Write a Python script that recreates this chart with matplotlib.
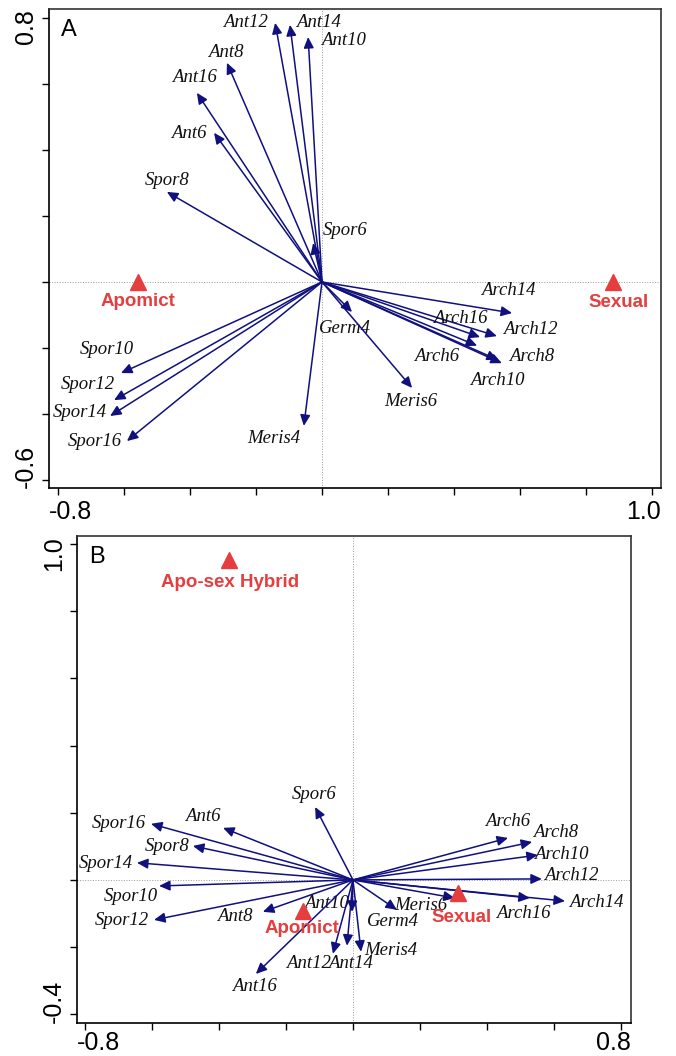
import matplotlib
matplotlib.use('Agg')
import matplotlib.pyplot as plt
import matplotlib.transforms as mtransforms
import numpy as np

# trait scores (arrow tips), panel A
varsA = ['Ant6', 'Ant8', 'Ant10', 'Ant12', 'Ant14', 'Ant16',
         'Spor6', 'Spor8', 'Spor10', 'Spor12', 'Spor14', 'Spor16',
         'Arch6', 'Arch8', 'Arch10', 'Arch12', 'Arch14', 'Arch16',
         'Germ4', 'Meris4', 'Meris6']
xA = [-0.327, -0.288, -0.042, -0.142, -0.097, -0.379,
      -0.027, -0.470, -0.609, -0.630, -0.642, -0.591,
      0.470, 0.533, 0.545, 0.530, 0.576, 0.479,
      0.091, -0.055, 0.273]
yA = [0.452, 0.664, 0.742, 0.785, 0.779, 0.573,
      0.118, 0.273, -0.276, -0.358, -0.406, -0.482,
      -0.193, -0.236, -0.246, -0.164, -0.094, -0.167,
      -0.091, -0.436, -0.321]

# trait scores, panel B
varsB = varsA
xB = [-0.388, -0.269, -0.003, -0.060, -0.018, -0.290,
      -0.113, -0.478, -0.579, -0.594, -0.645, -0.603,
      0.463, 0.535, 0.552, 0.564, 0.633, 0.528,
      0.131, 0.024, 0.304]
yB = [0.155, -0.095, -0.095, -0.220, -0.196, -0.280,
      0.217, 0.101, -0.018, -0.119, 0.051, 0.167,
      0.125, 0.113, 0.074, 0.003, -0.063, -0.054,
      -0.089, -0.214, -0.054]

# reproductive mode centroids
sitesA = ['Apomict', 'Sexual']
sxA = [-0.558, 0.882]
syA = [0.0, 0.0]
sitesB = ['Apo-sex Hybrid', 'Apomict', 'Sexual']
sxB = [-0.370, -0.149, 0.313]
syB = [0.952, -0.092, -0.039]

# label offsets from arrow tips, pixels (dx, dy up)
offA = {'Ant12': (-30, 0), 'Ant14': (28, 2), 'Ant10': (35, -3), 'Ant8': (-1, 10),
        'Ant16': (-2, 15), 'Ant6': (-25, -1), 'Spor8': (0, 11), 'Spor6': (32, 13),
        'Spor10': (-14, 24), 'Spor12': (-26, 16), 'Spor14': (-30, 4), 'Spor16': (-32, 0),
        'Meris4': (-30, -13), 'Germ4': (-7, -16), 'Meris6': (-1, -14), 'Arch14': (-4, 23),
        'Arch16': (-20, 19), 'Arch12': (33, 7), 'Arch6': (-41, -11), 'Arch8': (34, 3),
        'Arch10': (-5, -17)}
offB = {'Spor16': (-32, 0), 'Ant6': (-20, 11), 'Spor8': (-26, -1), 'Spor14': (-31, -1),
        'Spor10': (-28, -11), 'Spor12': (-32, -1), 'Ant8': (-28, -5), 'Ant16': (-1, -13),
        'Spor6': (-1, 13), 'Ant10': (-26, 8), 'Ant12': (-24, -10), 'Ant14': (4, -18),
        'Meris4': (30, 1), 'Germ4': (-4, -12), 'Meris6': (-34, -7), 'Arch6': (0, 16),
        'Arch8': (23, 9), 'Arch10': (23, 1), 'Arch12': (29, 3), 'Arch14': (31, -1),
        'Arch16': (-7, -15)}
soffA = {'Apomict': (0, -20), 'Sexual': (5, -21)}
soffB = {'Apo-sex Hybrid': (1, -22), 'Apomict': (-1, -18), 'Sexual': (4, -24)}

navy = '#10107f'
red = '#e53e3e'
sans = 'Liberation Sans'
serif = 'Liberation Serif'


def biplot(fig, ax, names, xs, ys, offs, sites, sx, sy, soffs, xlim, ylim, xt, yt, letter, xgap):
    ax.set_xlim(xlim)
    ax.set_ylim(ylim)
    ax.axhline(0, color='#999999', lw=0.7, ls=':', zorder=0)
    ax.axvline(0, color='#999999', lw=0.7, ls=':', zorder=0)
    for n, x, y in zip(names, xs, ys):
        ax.annotate('', xy=(x, y), xytext=(0, 0),
                    arrowprops=dict(arrowstyle='-|>,head_length=0.65,head_width=0.3',
                                    color=navy, lw=1.1, mutation_scale=10,
                                    shrinkA=0, shrinkB=0))
        dx, dy = offs[n]
        ax.annotate(n, xy=(x, y), xytext=(dx, dy), textcoords='offset pixels',
                    ha='center', va='center', fontsize=13.5, style='italic',
                    family=serif, color='#111111')
    ax.plot(sx, sy, '^', color=red, ms=12, mec=red, zorder=5)
    for n, x, y in zip(sites, sx, sy):
        dx, dy = soffs[n]
        ax.annotate(n, xy=(x, y), xytext=(dx, dy), textcoords='offset pixels',
                    ha='center', va='center', fontsize=13.5, fontweight='bold',
                    family=sans, color=red)
    ax.set_xticks(xt)
    ax.set_yticks(yt)
    ax.set_xticklabels([])
    ax.set_yticklabels([])
    ax.tick_params(direction='out', length=5, width=1, colors='black')
    for s in ['left', 'bottom']:
        ax.spines[s].set_color('black')
        ax.spines[s].set_linewidth(1.2)
    for s in ['top', 'right']:
        ax.spines[s].set_color('#333333')
        ax.spines[s].set_linewidth(1.2)
    # end tick labels only, kept inside the frame
    below = ax.transAxes + mtransforms.ScaledTranslation(0, -xgap / 100, fig.dpi_scale_trans)
    left = ax.transAxes + mtransforms.ScaledTranslation(-11 / 100, 0, fig.dpi_scale_trans)
    ax.text(0, 0, '%.1f' % xt[0], transform=below, ha='left', va='top',
            fontsize=18, family=sans)
    ax.text(1, 0, '%.1f' % xt[-1], transform=below, ha='right', va='top',
            fontsize=18, family=sans)
    ax.text(0, 1, '%.1f' % yt[-1], transform=left, ha='right', va='top',
            fontsize=18, family=sans, rotation=90)
    ax.text(0, 0, '%.1f' % yt[0], transform=left, ha='right', va='bottom',
            fontsize=18, family=sans, rotation=90)
    corner = ax.transAxes + mtransforms.ScaledTranslation(12 / 100, -10 / 100, fig.dpi_scale_trans)
    ax.text(0, 1, letter, transform=corner, ha='left', va='top', fontsize=17, family=sans)


fig = plt.figure(figsize=(6.76, 10.56), dpi=100)
axA = fig.add_axes([0.0725, 0.5379, 0.9053, 0.4536])
axB = fig.add_axes([0.1139, 0.03125, 0.8195, 0.4612])

biplot(fig, axA, varsA, xA, yA, offA, sitesA, sxA, syA, soffA,
       (-0.827, 1.027), (-0.624, 0.827),
       np.round(np.arange(-0.8, 1.01, 0.2), 1), np.round(np.arange(-0.6, 0.81, 0.2), 1), 'A', 12)
biplot(fig, axB, varsB, xB, yB, offB, sitesB, sxB, syB, soffB,
       (-0.824, 0.830), (-0.426, 1.024),
       np.round(np.arange(-0.8, 0.81, 0.2), 1), np.round(np.arange(-0.4, 1.01, 0.2), 1), 'B', 8)

fig.savefig('out.png', dpi=100)
